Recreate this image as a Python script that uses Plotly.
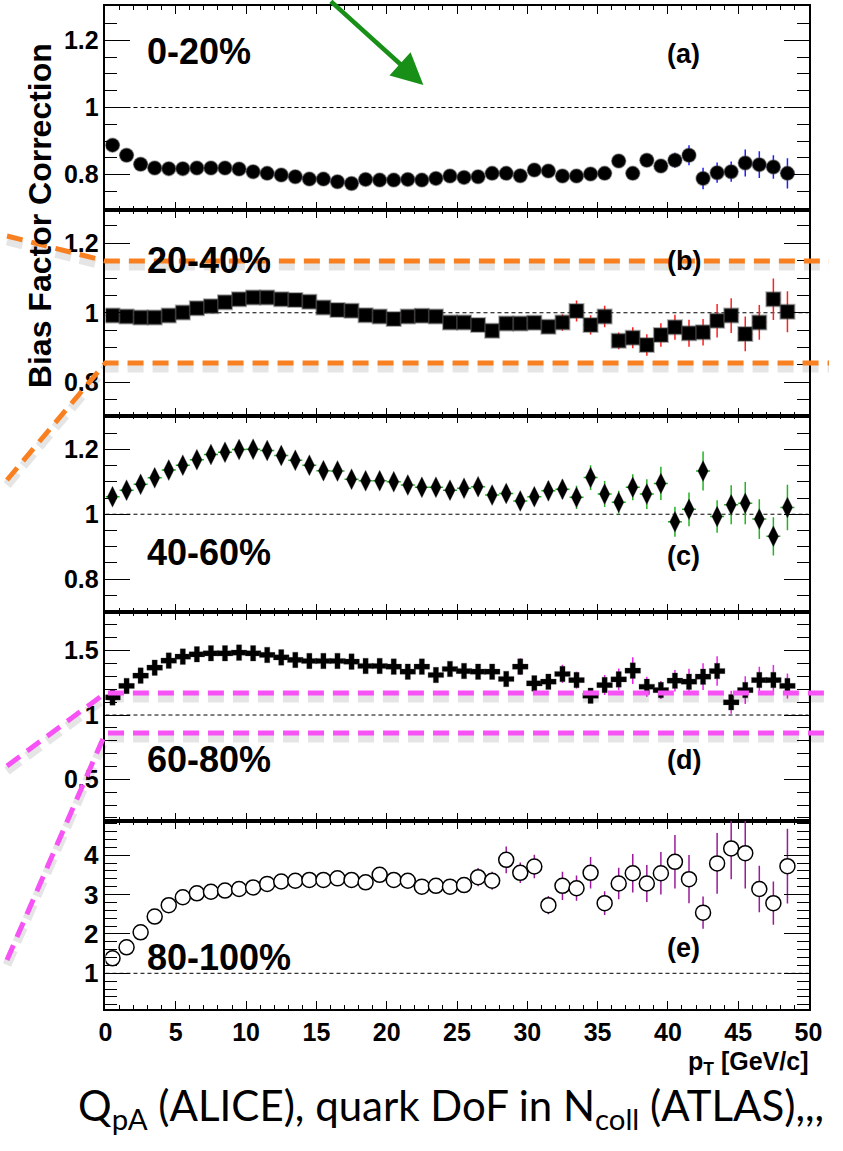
import plotly.graph_objects as go

# ---------------------------------------------------------------- data
pt = [0.5, 1.5, 2.5, 3.5, 4.5, 5.5, 6.5, 7.5, 8.5, 9.5,
      10.5, 11.5, 12.5, 13.5, 14.5, 15.5, 16.5, 17.5, 18.5, 19.5,
      20.5, 21.5, 22.5, 23.5, 24.5, 25.5, 26.5, 27.5, 28.5, 29.5,
      30.5, 31.5, 32.5, 33.5, 34.5, 35.5, 36.5, 37.5, 38.5, 39.5,
      40.5, 41.5, 42.5, 43.5, 44.5, 45.5, 46.5, 47.5, 48.5]

# (a) 0-20%
a_vals = [0.888, 0.858, 0.831, 0.820, 0.818, 0.818, 0.820, 0.820, 0.820, 0.817,
          0.809, 0.804, 0.799, 0.794, 0.787, 0.787, 0.779, 0.774, 0.786, 0.784,
          0.784, 0.786, 0.784, 0.789, 0.796, 0.792, 0.794, 0.804, 0.804, 0.797,
          0.814, 0.811, 0.796, 0.796, 0.802, 0.804, 0.841, 0.804, 0.843, 0.826,
          0.843, 0.858, 0.789, 0.806, 0.809, 0.835, 0.830, 0.823, 0.804]
a_err = [0.004, 0.004, 0.003, 0.003, 0.003, 0.003, 0.003, 0.003, 0.003, 0.003,
         0.004, 0.004, 0.004, 0.004, 0.004, 0.005, 0.005, 0.005, 0.005, 0.005,
         0.006, 0.006, 0.006, 0.006, 0.007, 0.007, 0.007, 0.008, 0.008, 0.009,
         0.010, 0.010, 0.011, 0.012, 0.012, 0.013, 0.015, 0.015, 0.017, 0.020,
         0.022, 0.030, 0.032, 0.030, 0.030, 0.040, 0.040, 0.035, 0.045]

# (b) 20-40%
b_vals = [0.992, 0.989, 0.986, 0.986, 0.992, 1.001, 1.013, 1.019, 1.030, 1.039,
          1.044, 1.044, 1.039, 1.037, 1.032, 1.015, 1.008, 1.006, 0.993, 0.989,
          0.982, 0.989, 0.991, 0.989, 0.972, 0.972, 0.965, 0.948, 0.969, 0.969,
          0.971, 0.960, 0.972, 1.005, 0.965, 0.989, 0.919, 0.928, 0.907, 0.936,
          0.958, 0.941, 0.944, 0.977, 0.992, 0.939, 0.972, 1.039, 1.003]
b_err = [0.003, 0.003, 0.003, 0.003, 0.003, 0.003, 0.004, 0.004, 0.004, 0.004,
         0.005, 0.005, 0.005, 0.005, 0.006, 0.006, 0.006, 0.007, 0.007, 0.008,
         0.008, 0.009, 0.009, 0.010, 0.010, 0.011, 0.012, 0.012, 0.013, 0.014,
         0.012, 0.017, 0.024, 0.030, 0.028, 0.031, 0.024, 0.030, 0.031, 0.034,
         0.036, 0.039, 0.038, 0.048, 0.050, 0.050, 0.050, 0.060, 0.059]

# (c) 40-60%
c_vals = [1.054, 1.074, 1.092, 1.112, 1.136, 1.151, 1.168, 1.184, 1.191, 1.199,
          1.200, 1.196, 1.181, 1.166, 1.151, 1.134, 1.133, 1.108, 1.103, 1.103,
          1.100, 1.090, 1.083, 1.083, 1.074, 1.080, 1.085, 1.059, 1.064, 1.041,
          1.054, 1.072, 1.077, 1.052, 1.113, 1.062, 1.037, 1.083, 1.062, 1.095,
          0.977, 1.015, 1.133, 0.993, 1.029, 1.034, 0.985, 0.932, 1.021]
c_err = [0.004, 0.004, 0.004, 0.004, 0.004, 0.005, 0.005, 0.005, 0.005, 0.005,
         0.006, 0.006, 0.006, 0.006, 0.007, 0.007, 0.007, 0.008, 0.008, 0.008,
         0.009, 0.009, 0.010, 0.010, 0.011, 0.012, 0.013, 0.014, 0.016, 0.020,
         0.025, 0.030, 0.030, 0.036, 0.038, 0.040, 0.035, 0.040, 0.046, 0.051,
         0.046, 0.052, 0.060, 0.050, 0.060, 0.065, 0.061, 0.059, 0.070]

# (d) 60-80%
d_vals = [1.137, 1.226, 1.306, 1.368, 1.423, 1.454, 1.472, 1.480, 1.480, 1.485,
          1.480, 1.467, 1.448, 1.428, 1.420, 1.420, 1.420, 1.415, 1.381, 1.381,
          1.376, 1.337, 1.376, 1.311, 1.358, 1.342, 1.337, 1.337, 1.280, 1.376,
          1.246, 1.259, 1.319, 1.272, 1.150, 1.233, 1.277, 1.345, 1.220, 1.194,
          1.267, 1.259, 1.298, 1.342, 1.099, 1.194, 1.272, 1.272, 1.226]
d_err = [0.040, 0.012, 0.008, 0.008, 0.008, 0.008, 0.008, 0.008, 0.008, 0.008,
         0.009, 0.009, 0.010, 0.010, 0.011, 0.012, 0.013, 0.014, 0.015, 0.016,
         0.017, 0.018, 0.020, 0.022, 0.024, 0.026, 0.028, 0.030, 0.035, 0.065,
         0.040, 0.050, 0.071, 0.065, 0.052, 0.078, 0.084, 0.104, 0.078, 0.070,
         0.084, 0.100, 0.104, 0.114, 0.090, 0.108, 0.104, 0.117, 0.097]

# (e) 80-100%
e_vals = [1.38, 1.66, 2.04, 2.44, 2.73, 2.93, 3.03, 3.07, 3.10, 3.14,
          3.18, 3.27, 3.33, 3.35, 3.37, 3.37, 3.41, 3.37, 3.31, 3.50,
          3.37, 3.35, 3.20, 3.22, 3.20, 3.24, 3.44, 3.35, 3.88, 3.55,
          3.71, 2.73, 3.22, 3.16, 3.55, 2.78, 3.28, 3.54, 3.28, 3.54,
          3.83, 3.39, 2.54, 3.79, 4.17, 4.05, 3.14, 2.78, 3.72]
e_err = [0.05, 0.05, 0.05, 0.05, 0.05, 0.05, 0.05, 0.05, 0.05, 0.05,
         0.06, 0.06, 0.06, 0.07, 0.07, 0.07, 0.08, 0.08, 0.08, 0.09,
         0.09, 0.10, 0.10, 0.11, 0.12, 0.13, 0.23, 0.23, 0.34, 0.26,
         0.30, 0.23, 0.36, 0.32, 0.40, 0.30, 0.40, 0.49, 0.47, 0.54,
         0.68, 0.61, 0.41, 0.77, 0.78, 0.90, 0.59, 0.55, 0.95]

centralities = ["0-20%", "20-40%", "40-60%", "60-80%", "80-100%"]
letters = ["(a)", "(b)", "(c)", "(d)", "(e)"]
y_tickvals = [[0.8, 1, 1.2], [0.8, 1, 1.2], [0.8, 1, 1.2], [0.5, 1, 1.5], [1, 2, 3, 4]]
y_ticktext = [["0.8", "1", "1.2"], ["0.8", "1", "1.2"], ["0.8", "1", "1.2"],
              ["0.5", "1", "1.5"], ["1", "2", "3", "4"]]
x_tickvals = [0, 5, 10, 15, 20, 25, 30, 35, 40, 45, 50]
x_ticktext = ["0", "5", "10", "15", "20", "25", "30", "35", "40", "45", "50"]

# ---------------------------------------------------------------- geometry / styles
W, H = 843, 1151
FONT = "Liberation Sans, Arial, Helvetica, sans-serif"
X_LEFT, X_RIGHT = 101, 822


def px(x):
    return x / W


def py(y):
    return 1 - y / H


panels = [
    dict(vals=a_vals, err=a_err, top=6, bottom=210, rng=[0.695, 1.302], minor=0.05,
         marker=dict(symbol="circle", size=14, color="black",
                     line=dict(color="rgba(70,70,70,0.45)", width=1.5)),
         ecolor="#2020ff", tag_y=52, let_y=54),
    dict(vals=b_vals, err=b_err, top=210, bottom=415.5, rng=[0.704, 1.296], minor=0.05,
         marker=dict(symbol="square", size=14, color="black",
                     line=dict(color="rgba(70,70,70,0.45)", width=2)),
         ecolor="#ff2020", tag_y=260, let_y=261),
    dict(vals=c_vals, err=c_err, top=415.5, bottom=612, rng=[0.699, 1.304], minor=0.05,
         marker=dict(symbol="diamond-tall", size=15, color="black",
                     line=dict(color="rgba(70,70,70,0.3)", width=1)),
         ecolor="#22b422", tag_y=552, let_y=556),
    dict(vals=d_vals, err=d_err, top=612, bottom=821, rng=[0.176, 1.801], minor=0.1,
         marker=dict(symbol="cross", size=13, color="black",
                     line=dict(color="rgba(70,70,70,0.3)", width=1)),
         ecolor="#ee22ee", tag_y=759, let_y=760),
    dict(vals=e_vals, err=e_err, top=821, bottom=1009, rng=[0.094, 4.866], minor=0.2,
         marker=dict(symbol="circle", size=15, color="white",
                     line=dict(color="black", width=1.5)),
         ecolor="#9a1a9a", tag_y=957, let_y=948),
]

fig = go.Figure()
shapes = []
annotations = []

for i, p in enumerate(panels):
    n = "" if i == 0 else str(i + 1)
    xa, ya = "x" + n, "y" + n

    dotted_x = (i == 2)
    if dotted_x:
        # horizontal bin-width bars drawn dotted
        seg_x, seg_y = [], []
        for xv, yv in zip(pt, p["vals"]):
            seg_x += [xv - 0.5, xv + 0.5, None]
            seg_y += [yv, yv, None]
        fig.add_trace(go.Scatter(x=seg_x, y=seg_y, mode="lines", xaxis=xa, yaxis=ya,
                                 line=dict(color=p["ecolor"], width=1.5, dash="dot"),
                                 hoverinfo="skip", showlegend=False))

    fig.add_trace(go.Scatter(
        x=pt, y=p["vals"], mode="markers", xaxis=xa, yaxis=ya,
        marker=p["marker"], showlegend=False,
        error_y=dict(type="data", array=p["err"], color=p["ecolor"], thickness=1.5, width=0),
        error_x=dict(type="constant", value=0.5, color=p["ecolor"], thickness=1.3, width=0,
                     visible=not dotted_x),
    ))

    tickfont_y = dict(family=FONT, size=26 if i == 4 else 25, color="black", weight="bold")
    fig.layout["xaxis" + n] = dict(
        domain=[px(X_LEFT), px(X_RIGHT)], range=[0, 50], anchor=ya,
        showline=True, linecolor="black", linewidth=1.5, mirror="allticks",
        ticks="inside", ticklen=8, tickwidth=1, tickcolor="black",
        tickmode="array", tickvals=x_tickvals, ticktext=x_ticktext,
        minor=dict(ticks="inside", ticklen=4, dtick=1, tick0=0, tickcolor="black",
                   tickwidth=1, showgrid=False),
        showgrid=False, zeroline=False, showticklabels=(i == 4),
        tickfont=dict(family=FONT, size=25, color="black", weight="bold"),
    )
    fig.layout["yaxis" + n] = dict(
        domain=[py(p["bottom"]), py(p["top"])], range=p["rng"], anchor=xa,
        showline=True, linecolor="black", linewidth=1.5, mirror="allticks",
        ticks="inside", ticklen=25, tickwidth=1, tickcolor="black",
        tickmode="array", tickvals=y_tickvals[i], ticktext=y_ticktext[i],
        minor=dict(ticks="inside", ticklen=12, dtick=p["minor"], tick0=0,
                   tickcolor="black", tickwidth=1, showgrid=False),
        showgrid=False, zeroline=False, tickfont=tickfont_y,
    )

    # reference line at unity
    shapes.append(dict(type="line", xref=xa, yref=ya, x0=0, x1=50, y0=1, y1=1,
                       line=dict(color="black", width=1, dash="4px,3px"), layer="below"))

    annotations.append(dict(text=centralities[i], x=px(142), y=py(p["tag_y"]),
                            xref="paper", yref="paper", xanchor="left", yanchor="middle",
                            showarrow=False,
                            font=dict(family=FONT, size=36, color="black", weight="bold")))
    annotations.append(dict(text=letters[i], x=px(694), y=py(p["let_y"]),
                            xref="paper", yref="paper", xanchor="center", yanchor="middle",
                            showarrow=False,
                            font=dict(family=FONT, size=27, color="black", weight="bold")))


# highlighted bands (dashed guides with a soft drop shadow)
def path_of(points, dx=0, dy=0):
    return "M " + " L ".join(f"{px(x + dx):.5f},{py(y + dy):.5f}" for x, y in points)


guides = [
    ([(0, 236), (101, 261), (843, 261)], "#f98020"),
    ([(0, 480), (101, 363), (843, 363)], "#f98020"),
    ([(0, 766), (101, 693), (843, 693)], "#f752f5"),
    ([(0, 960), (101, 733), (843, 733)], "#f752f5"),
]
for pts_, col in guides:
    shapes.append(dict(type="path", xref="paper", yref="paper", path=path_of(pts_, 0, 5),
                       line=dict(color="rgba(0,0,0,0.10)", width=9, dash="16px,9px"),
                       layer="above"))
    shapes.append(dict(type="path", xref="paper", yref="paper", path=path_of(pts_),
                       line=dict(color=col, width=5, dash="16px,9px"), layer="above"))

# axis titles and caption
annotations.append(dict(text="Bias Factor Correction", x=px(34), y=py(216), xref="paper",
                        yref="paper", textangle=-90, showarrow=False,
                        xanchor="center", yanchor="middle",
                        font=dict(family=FONT, size=32, color="black", weight="bold")))
annotations.append(dict(text="p<sub>T</sub> [GeV/c]", x=px(824), y=py(1063), xref="paper",
                        yref="paper", xanchor="right", yanchor="middle", showarrow=False,
                        font=dict(family=FONT, size=25, color="black", weight="bold")))
annotations.append(dict(text="Q<sub>pA</sub> (ALICE), quark DoF in N<sub>coll</sub> (ATLAS),,,",
                        x=px(455), y=py(1108), xref="paper", yref="paper",
                        xanchor="center", yanchor="middle", showarrow=False,
                        font=dict(family="Lato, Open Sans, sans-serif", size=42, color="black")))
# green pointer arrow
annotations.append(dict(text="", x=px(427), y=py(85), xref="paper", yref="paper",
                        ax=-94, ay=-92, showarrow=True, arrowhead=2, arrowsize=1.4,
                        arrowwidth=4.5, arrowcolor="#189018"))

fig.update_layout(
    width=W, height=H, margin=dict(l=0, r=0, t=0, b=0),
    paper_bgcolor="white", plot_bgcolor="white",
    showlegend=False, shapes=shapes, annotations=annotations,
)

fig.write_html("out.html")
